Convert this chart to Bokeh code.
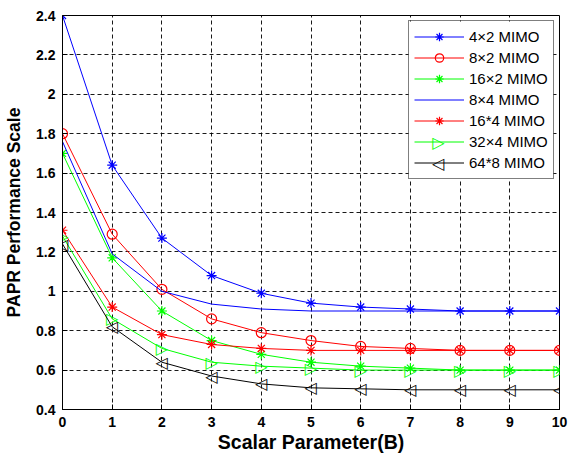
import math
from bokeh.plotting import figure
from bokeh.models import (FixedTicker, CustomJSTickFormatter, Legend, LegendItem, Range1d,
                          ColumnDataSource)
from bokeh.core.properties import value
from bokeh.embed import file_html
from bokeh.resources import INLINE

x = [0, 1, 2, 3, 4, 5, 6, 7, 8, 9, 10]
s_4x2 = [2.40, 1.64, 1.27, 1.08, 0.99, 0.94, 0.92, 0.91, 0.90, 0.90, 0.90]
s_8x2 = [1.80, 1.29, 1.01, 0.86, 0.79, 0.75, 0.72, 0.71, 0.70, 0.70, 0.70]
s_16x2 = [1.70, 1.17, 0.90, 0.75, 0.68, 0.64, 0.62, 0.61, 0.60, 0.60, 0.60]
s_8x4 = [1.76, 1.19, 1.00, 0.935, 0.91, 0.90, 0.90, 0.90, 0.90, 0.90, 0.90]
s_16x4 = [1.31, 0.92, 0.78, 0.73, 0.71, 0.70, 0.70, 0.70, 0.70, 0.70, 0.70]
s_32x4 = [1.28, 0.86, 0.71, 0.64, 0.62, 0.61, 0.60, 0.60, 0.60, 0.60, 0.60]
s_64x8 = [1.24, 0.82, 0.64, 0.57, 0.53, 0.51, 0.505, 0.50, 0.50, 0.50, 0.50]

labels = ["4×2 MIMO", "8×2 MIMO", "16×2 MIMO", "8×4 MIMO", "16*4 MIMO", "32×4 MIMO", "64*8 MIMO"]
x_ticks = [0, 1, 2, 3, 4, 5, 6, 7, 8, 9, 10]
y_ticks = [0.4, 0.6, 0.8, 1.0, 1.2, 1.4, 1.6, 1.8, 2.0, 2.2, 2.4]

X0, X1, Y0, Y1 = 0, 10, 0.4, 2.4
W, H, BL, BT, BR = 568, 455, 62, 15, 9
FRAME_W, FRAME_H = W - BL - BR, 393

p = figure(width=W, height=H, output_backend="svg", toolbar_location=None,
           x_range=Range1d(X0, X1), y_range=Range1d(Y0, Y1),
           min_border_left=BL, min_border_top=BT, min_border_right=BR, min_border_bottom=10)
p.background_fill_color = "white"
p.border_fill_color = "white"
p.outline_line_color = "black"
p.outline_line_width = 1

font = "Liberation Sans"
for ax in (p.xaxis[0], p.yaxis[0]):
    ax.major_tick_in = 5
    ax.major_tick_out = 0
    ax.minor_tick_line_color = None
    ax.axis_line_color = "black"
    ax.major_tick_line_color = "black"
    ax.major_label_text_font = font
    ax.major_label_text_font_style = "bold"
    ax.major_label_text_font_size = "14px"
    ax.major_label_text_color = "black"
    ax.axis_label_text_font = font
    ax.axis_label_text_font_style = "bold"
    ax.axis_label_text_color = "black"

p.xaxis.axis_label_text_font_size = "19.5px"
p.yaxis.axis_label_text_font_size = "17.5px"
p.xaxis.ticker = FixedTicker(ticks=x_ticks)
p.yaxis.ticker = FixedTicker(ticks=y_ticks)
p.yaxis.formatter = CustomJSTickFormatter(code="return String(Math.round(tick*10)/10)")
p.xaxis.axis_label = "Scalar Parameter(B)"
p.yaxis.axis_label = "PAPR Performance Scale"
p.xaxis.major_label_standoff = 7
p.xaxis.axis_label_standoff = 1
p.yaxis.major_label_standoff = 7
p.yaxis.axis_label_standoff = 9

for g in (p.xgrid[0], p.ygrid[0]):
    g.grid_line_color = "black"
    g.grid_line_dash = "4 3"
    g.grid_line_width = 1
    g.grid_line_alpha = 0.9
p.xgrid.ticker = FixedTicker(ticks=x_ticks)
p.ygrid.ticker = FixedTicker(ticks=y_ticks)

# (values, colour, scatter marker or text symbol)
series = [
    (s_4x2, "#0000ff", ("scatter", "asterisk")),
    (s_8x2, "#ff0000", ("scatter", "circle")),
    (s_16x2, "#00ff00", ("scatter", "asterisk")),
    (s_8x4, "#0000ff", None),
    (s_16x4, "#ff0000", ("scatter", "asterisk")),
    (s_32x4, "#00ff00", ("text", "▷")),
    (s_64x8, "#000000", ("text", "◁")),
]

TRI_SIZE = "16px"
items = []
for (ys, col, mk), lab in zip(series, labels):
    src = ColumnDataSource(dict(x=x, y=ys))
    rs = [p.line("x", "y", source=src, line_color=col, line_width=1)]
    if mk is not None:
        kind, sym = mk
        if kind == "scatter":
            rs.append(p.scatter("x", "y", source=src, marker=sym, size=10,
                                line_color=col, fill_color=None, line_width=1.2))
        else:
            rs.append(p.text("x", "y", text=value(sym), source=src, text_color=col,
                             text_font=value("DejaVu Sans"), text_font_size=TRI_SIZE,
                             text_align="center", text_baseline="middle"))
    items.append(LegendItem(label=lab, renderers=rs))

# legend geometry (screen px, relative to the frame's bottom-left)
LEG_X, LEG_Y, LEG_PAD, LEG_GW, LEG_GH, LEG_W = 346, 230, 5, 50, 21, 145
leg_h = 2 * LEG_PAD + len(items) * LEG_GH


def sx2d(px):
    return X0 + px / FRAME_W * (X1 - X0)


def sy2d(py):
    return Y0 + py / FRAME_H * (Y1 - Y0)


# opaque white backing of the legend box, drawn as a glyph so that the
# text-drawn triangle legend symbols can sit above it
p.quad(left=[sx2d(LEG_X)], right=[sx2d(LEG_X + LEG_W)], bottom=[sy2d(LEG_Y)],
       top=[sy2d(LEG_Y + leg_h)], fill_color="white", line_color=None)

sym_x, sym_y, sym_t, sym_c = [], [], [], []
for i, (ys, col, mk) in enumerate(series):
    if mk is not None and mk[0] == "text":
        sym_x.append(sx2d(LEG_X + LEG_PAD + LEG_GW / 2))
        sym_y.append(sy2d(LEG_Y + leg_h - LEG_PAD - LEG_GH / 2 - LEG_GH * i))
        sym_t.append(mk[1])
        sym_c.append(col)
p.text(sym_x, sym_y, text=sym_t, text_color=sym_c, text_font=value("DejaVu Sans"),
       text_font_size=TRI_SIZE, text_align="center", text_baseline="middle")

legend = Legend(items=items, location=(LEG_X, LEG_Y))
legend.label_text_font = font
legend.label_text_font_size = "15px"
legend.label_text_color = "black"
legend.glyph_width = LEG_GW
legend.glyph_height = LEG_GH
legend.label_height = LEG_GH
legend.spacing = 0
legend.padding = LEG_PAD
legend.margin = 0
legend.label_standoff = 5
legend.border_line_color = "black"
legend.border_line_width = 1
legend.background_fill_alpha = 0
p.add_layout(legend)

open("out.html", "w").write(file_html(p, INLINE))
